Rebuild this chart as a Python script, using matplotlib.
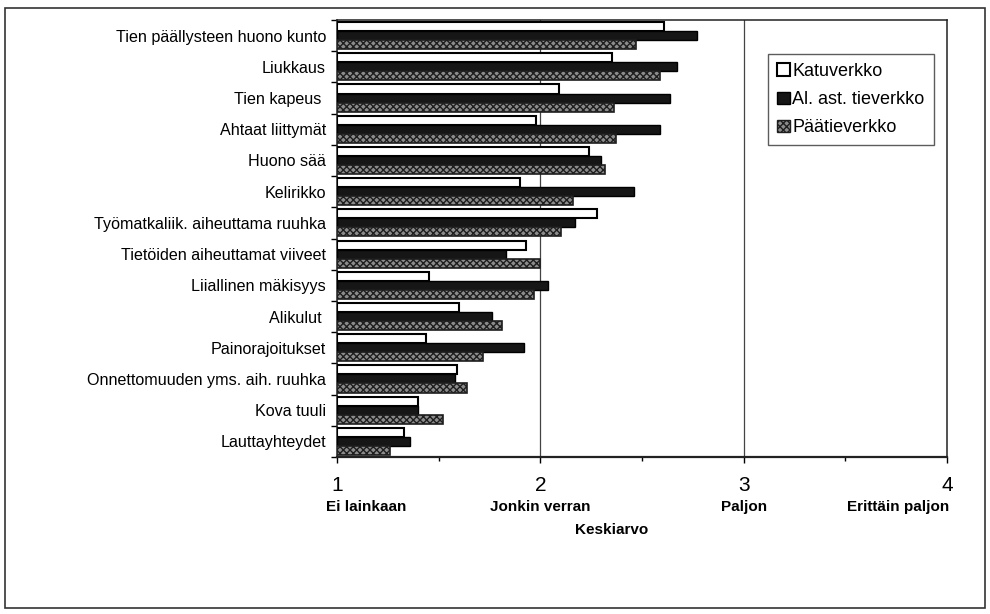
import matplotlib
matplotlib.use("Agg")
import matplotlib.pyplot as plt
import numpy as np
from matplotlib.patches import Rectangle, Patch

plt.rcParams['font.family'] = ['Liberation Sans', 'DejaVu Sans']

categories = [
    "Tien päällysteen huono kunto",
    "Liukkaus",
    "Tien kapeus ",
    "Ahtaat liittymät",
    "Huono sää",
    "Kelirikko",
    "Työmatkaliik. aiheuttama ruuhka",
    "Tietöiden aiheuttamat viiveet",
    "Liiallinen mäkisyys",
    "Alikulut ",
    "Painorajoitukset",
    "Onnettomuuden yms. aih. ruuhka",
    "Kova tuuli",
    "Lauttayhteydet",
]

katuverkko = [2.61, 2.35, 2.09, 1.98, 2.24, 1.90, 2.28, 1.93, 1.45, 1.60, 1.44, 1.59, 1.40, 1.33]
al_ast_tieverkko = [2.77, 2.67, 2.64, 2.59, 2.30, 2.46, 2.17, 1.83, 2.04, 1.76, 1.92, 1.58, 1.40, 1.36]
paatieverkko = [2.47, 2.59, 2.36, 2.37, 2.32, 2.16, 2.10, 2.00, 1.97, 1.81, 1.72, 1.64, 1.52, 1.26]

series_names = ["Katuverkko", "Al. ast. tieverkko", "Päätieverkko"]

x_ticks = [1, 2, 3, 4]
x_tick_words = ["Ei lainkaan", "Jonkin verran", "Paljon", "Erittäin paljon"]
x_label = "Keskiarvo"

fig = plt.figure(figsize=(9.9, 6.14), dpi=100)
fig.patch.set_facecolor("white")

# outer frame around the whole chart area
fig.add_artist(Rectangle((5 / 990, 1 - 608 / 614), 980 / 990, 600 / 614,
                         transform=fig.transFigure, fill=False,
                         edgecolor="#333333", linewidth=1.2))

ax = fig.add_axes([337 / 990, 1 - 457 / 614, 610 / 990, 437 / 614])

y = np.arange(len(categories))
h = 0.29
base = 1.0
gray_face = "#8c8c8c"

ax.barh(y - h, np.array(katuverkko) - base, left=base, height=h,
        facecolor="white", edgecolor="black", linewidth=1.5, zorder=3)
ax.barh(y, np.array(al_ast_tieverkko) - base, left=base, height=h,
        facecolor="#161616", edgecolor="black", linewidth=1.0, zorder=3)
ax.barh(y + h, np.array(paatieverkko) - base, left=base, height=h,
        facecolor=gray_face, edgecolor="#1e1e1e", linewidth=1.2,
        hatch="xxxxx", zorder=3)

ax.set_xlim(1, 4)
ax.set_ylim(len(categories) - 0.5, -0.5)

for xv in [2, 3]:
    ax.axvline(xv, color="#444444", linewidth=0.9, zorder=1)

for s in ax.spines.values():
    s.set_linewidth(1.1)
    s.set_color("#222222")
ax.spines["bottom"].set_linewidth(1.6)

ax.set_yticks(y)
ax.set_yticklabels(categories, fontsize=11.6)
ax.set_yticks(np.arange(len(categories) + 1) - 0.5, minor=True)
ax.tick_params(axis="y", which="major", length=0, pad=8)
ax.tick_params(axis="y", which="minor", length=4, direction="out", width=1)

ax.set_xticks(x_ticks)
ax.set_xticklabels([])
ax.set_xticks([1.5, 2.5, 3.5], minor=True)
ax.tick_params(axis="x", which="major", length=4, direction="out", width=1)
ax.tick_params(axis="x", which="minor", length=3, direction="out", width=1)

xt = ax.get_xaxis_transform()
for xv, word in zip(x_ticks, x_tick_words):
    ax.text(xv, -0.065, str(xv), transform=xt, ha="center", va="center",
            fontsize=15)
    if xv == 1:
        ha, xo = "left", xv - 0.055
    elif xv == 4:
        ha, xo = "right", xv + 0.01
    else:
        ha, xo = "center", xv
    ax.text(xo, -0.115, word, transform=xt, ha=ha, va="center",
            fontsize=11, fontweight="bold")
ax.text(2.35, -0.168, x_label, transform=xt, ha="center", va="center",
        fontsize=11, fontweight="bold")

handles = [
    Patch(facecolor="white", edgecolor="black", linewidth=1.5),
    Patch(facecolor="#161616", edgecolor="black"),
    Patch(facecolor=gray_face, edgecolor="#1e1e1e", hatch="xxxxx"),
]
leg = ax.legend(handles, series_names, loc="upper left",
                bbox_to_anchor=((768 - 337) / 610, 1 - (54 - 20) / 437),
                fontsize=13, frameon=True, fancybox=False,
                handlelength=0.7, handleheight=0.7, handletextpad=0.15,
                borderpad=0.5, labelspacing=0.62, borderaxespad=0)
leg.get_frame().set_edgecolor("#333333")
leg.get_frame().set_linewidth(1.0)

fig.savefig("out.png", dpi=100, facecolor="white")
